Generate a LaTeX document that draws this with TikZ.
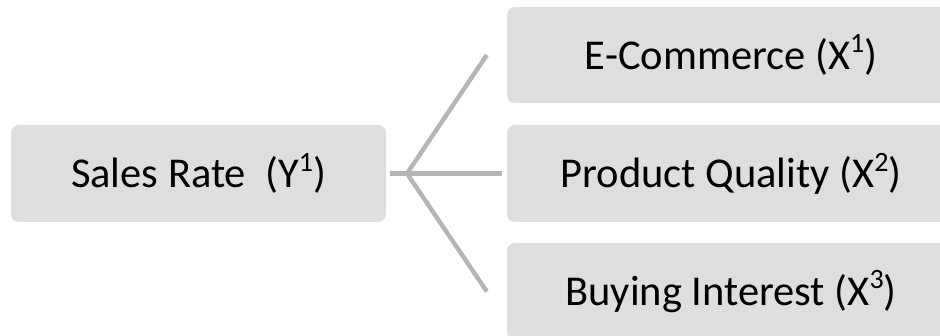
\documentclass[tikz,border=0pt]{standalone}
\usepackage{fontspec}
\setmainfont{Carlito}
\begin{document}
\begin{tikzpicture}[x=1pt,y=1pt,
  box/.style={fill=boxgray,draw=none,rounded corners=8pt,inner sep=0pt,
    font=\fontsize{42.5}{50}\selectfont,text=black},
  conn/.style={draw=linegray,line width=4.4pt}]
\definecolor{boxgray}{HTML}{DEDEDE}
\definecolor{linegray}{HTML}{B5B5B5}
\newcommand{\supx}[1]{\raisebox{0.8ex}{\fontsize{28}{28}\selectfont #1}}
\useasboundingbox (0,0) rectangle (940,336);
\clip (0,0) rectangle (940,336);
\node[box,minimum width=375pt,minimum height=97pt] (Y) at (198.5,162.5) {Sales Rate\ \ (Y\supx{1})};
\node[box,minimum width=448pt,minimum height=96pt] (X1) at (731,281) {E-Commerce (X\supx{1})};
\node[box,minimum width=448pt,minimum height=97pt] (X2) at (731,162.5) {Product Quality (X\supx{2})};
\node[box,minimum width=448pt,minimum height=97pt] (X3) at (731,44.5) {Buying Interest (X\supx{3})};
\coordinate (j) at (407,162.5);
\coordinate (e1) at ([xshift=-20pt]X1.west);
\coordinate (e2) at ([xshift=-5pt]X2.west);
\coordinate (e3) at ([xshift=-20pt]X3.west);
\draw[conn] ([xshift=4pt]Y.east) -- (e2);
\draw[conn] (j) -- (e1);
\draw[conn] (j) -- (e3);
\end{tikzpicture}
\end{document}
